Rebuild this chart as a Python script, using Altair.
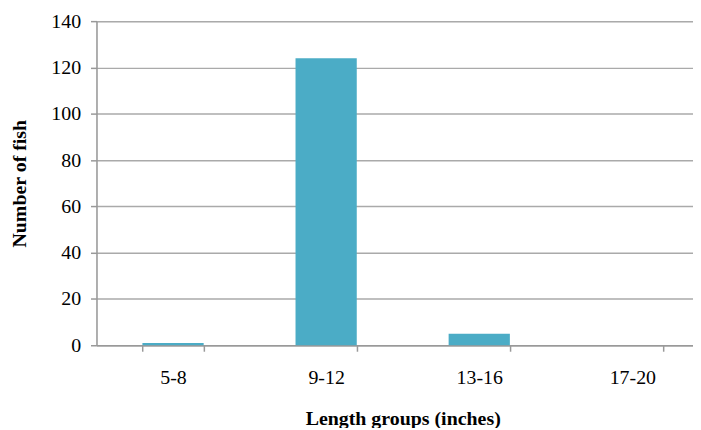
import altair as alt
import pandas as pd

categories = ["5-8", "9-12", "13-16", "17-20"]
counts = [1, 124, 5, 0]

df = pd.DataFrame({"group": categories, "count": counts})

font = "Liberation Serif"

chart = alt.Chart(df).mark_bar(color="#4BACC6").encode(
    x=alt.X(
        "group:N",
        sort=categories,
        scale=alt.Scale(paddingInner=0.6, paddingOuter=0.3, range=[0, 616]),
        axis=alt.Axis(
            title="Length groups (inches)",
            labelAngle=0,
            tickBand="extent",
            tickSize=6,
            grid=False,
            labelPadding=16,
            titlePadding=22,
        ),
    ),
    y=alt.Y(
        "count:Q",
        scale=alt.Scale(domain=[0, 140], nice=False),
        axis=alt.Axis(
            title="Number of fish",
            values=[0, 20, 40, 60, 80, 100, 120, 140],
            tickSize=6,
            labelPadding=10,
            titlePadding=21,
        ),
    ),
).properties(
    width=600,
    height=326,
    autosize=alt.AutoSizeParams(type="none"),
    padding={"left": 89, "top": 12, "right": 0, "bottom": 82},
).configure_view(stroke=None).configure(
    background="white", font=font
).configure_axis(
    labelFont=font,
    labelFontSize=20,
    labelColor="#000000",
    titleFont=font,
    titleFontSize=20,
    titleFontWeight="bold",
    titleColor="#000000",
    tickColor="#999999",
    tickWidth=1.5,
    domainColor="#999999",
    domainWidth=1.5,
    gridColor="#aaaaaa",
    gridWidth=1.5,
)

chart.save("out.html", embed_options={"renderer": "svg", "actions": False})
